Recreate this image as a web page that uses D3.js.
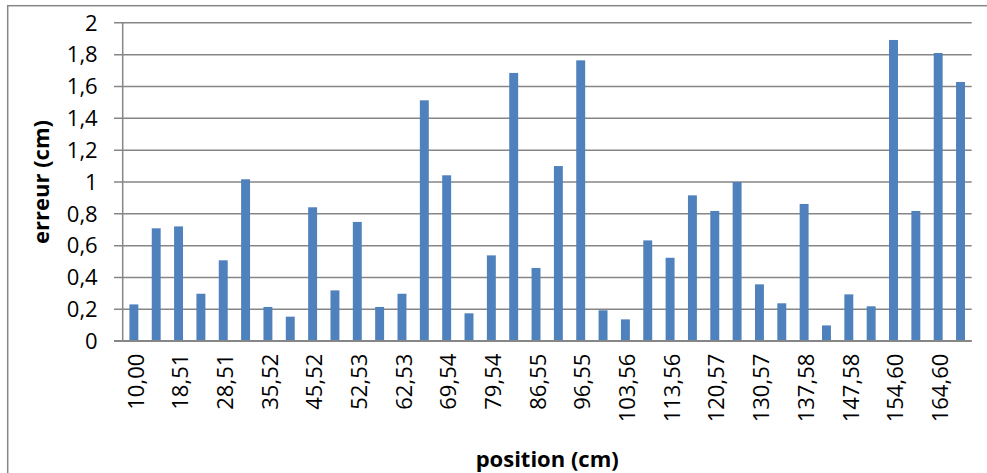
<!DOCTYPE html>
<html>
<head>
<meta charset="utf-8">
<script src="https://cdn.jsdelivr.net/npm/d3@7"></script>
<style>
  html, body { margin: 0; padding: 0; background: #fff; }
  svg { display: block; }
  text { font-family: "Open Sans", sans-serif; fill: #000; }
</style>
</head>
<body>
<svg id="chart" width="987" height="473"></svg>
<script>
// Category labels (position en cm) — every second one is shown on the axis
const positions = [
  "10,00","14,26","18,51","23,51","28,51","32,02","35,52","40,52","45,52","49,03",
  "52,53","57,53","62,53","66,04","69,54","74,54","79,54","83,05","86,55","91,55",
  "96,55","100,06","103,56","108,56","113,56","117,07","120,57","125,57","130,57","134,08",
  "137,58","142,58","147,58","151,09","154,60","159,60","164,60","171,61"
];
// Error values (cm)
const erreurs = [
  0.228, 0.706, 0.718, 0.295, 0.505, 1.014, 0.212, 0.151, 0.838, 0.316,
  0.746, 0.212, 0.295, 1.510, 1.039, 0.172, 0.536, 1.682, 0.457, 1.097,
  1.761, 0.191, 0.134, 0.630, 0.521, 0.913, 0.815, 0.997, 0.354, 0.235,
  0.859, 0.096, 0.291, 0.216, 1.889, 0.815, 1.807, 1.625
];
const yTicks = [0, 0.2, 0.4, 0.6, 0.8, 1, 1.2, 1.4, 1.6, 1.8, 2];
const xTitle = "position (cm)";
const yTitle = "erreur (cm)";

const svg = d3.select("#chart");
const plot = { left: 122.7, right: 971.7, top: 22.3, bottom: 340.7 };
const FONT = "'Open Sans', sans-serif";

// outer chart border
svg.append("rect")
  .attr("x", 7.7).attr("y", 5.7)
  .attr("width", 1000).attr("height", 500)
  .attr("fill", "#fff").attr("stroke", "#878787").attr("stroke-width", 1.5);

const x = d3.scaleBand()
  .domain(positions)
  .range([plot.left, plot.right])
  .paddingInner(0.6)
  .paddingOuter(0.3);

const y = d3.scaleLinear()
  .domain([0, 2])
  .range([plot.bottom, plot.top]);

const fmtY = d => (Number.isInteger(d) ? String(d) : d3.format(".1f")(d).replace(".", ","));

// Y axis with gridlines
const yAxis = d3.axisLeft(y)
  .tickValues(yTicks)
  .tickFormat(fmtY)
  .tickSize(-(plot.right - plot.left))
  .tickPadding(25);
const gy = svg.append("g")
  .attr("transform", `translate(${plot.left},0)`)
  .call(yAxis);
gy.select(".domain").remove();
gy.selectAll(".tick line")
  .attr("x1", -8.7)
  .attr("stroke", "#868686").attr("stroke-width", 1.5);
gy.selectAll(".tick text")
  .attr("font-size", 22)
  .attr("font-family", FONT)
  .attr("fill", "#000")
  .attr("dy", "0.35em");

// vertical axis line
svg.append("line")
  .attr("x1", plot.left).attr("x2", plot.left)
  .attr("y1", plot.top).attr("y2", plot.bottom)
  .attr("stroke", "#868686").attr("stroke-width", 1.5);

// bars
svg.append("g").selectAll("rect")
  .data(erreurs)
  .join("rect")
  .attr("x", (d, i) => x(positions[i]))
  .attr("width", x.bandwidth())
  .attr("y", d => y(d))
  .attr("height", d => y(0) - y(d))
  .attr("fill", "#4F81BD");

// X axis
const shown = positions.filter((p, i) => i % 2 === 0);
const xAxis = d3.axisBottom(x)
  .tickValues(shown)
  .tickSize(0)
  .tickPadding(0);
const gx = svg.append("g")
  .attr("transform", `translate(0,${plot.bottom})`)
  .call(xAxis);
gx.select(".domain")
  .attr("d", `M${plot.left - 8.7},0H${plot.right}`)
  .attr("stroke", "#868686").attr("stroke-width", 1.5);
gx.selectAll(".tick text")
  .attr("font-size", 22)
  .attr("font-family", FONT)
  .attr("fill", "#000")
  .attr("text-anchor", "end")
  .attr("transform", "translate(2,13) rotate(-90)")
  .attr("x", 0).attr("y", 0)
  .attr("dy", "0.35em");

// axis titles
svg.append("text")
  .attr("x", (plot.left + plot.right) / 2)
  .attr("y", 467)
  .attr("text-anchor", "middle")
  .attr("font-size", 22)
  .attr("font-family", FONT)
  .attr("font-weight", "bold")
  .text(xTitle);

svg.append("text")
  .attr("transform", `translate(49,182) rotate(-90)`)
  .attr("text-anchor", "middle")
  .attr("font-size", 22)
  .attr("font-family", FONT)
  .attr("font-weight", "bold")
  .text(yTitle);
</script>
</body>
</html>
